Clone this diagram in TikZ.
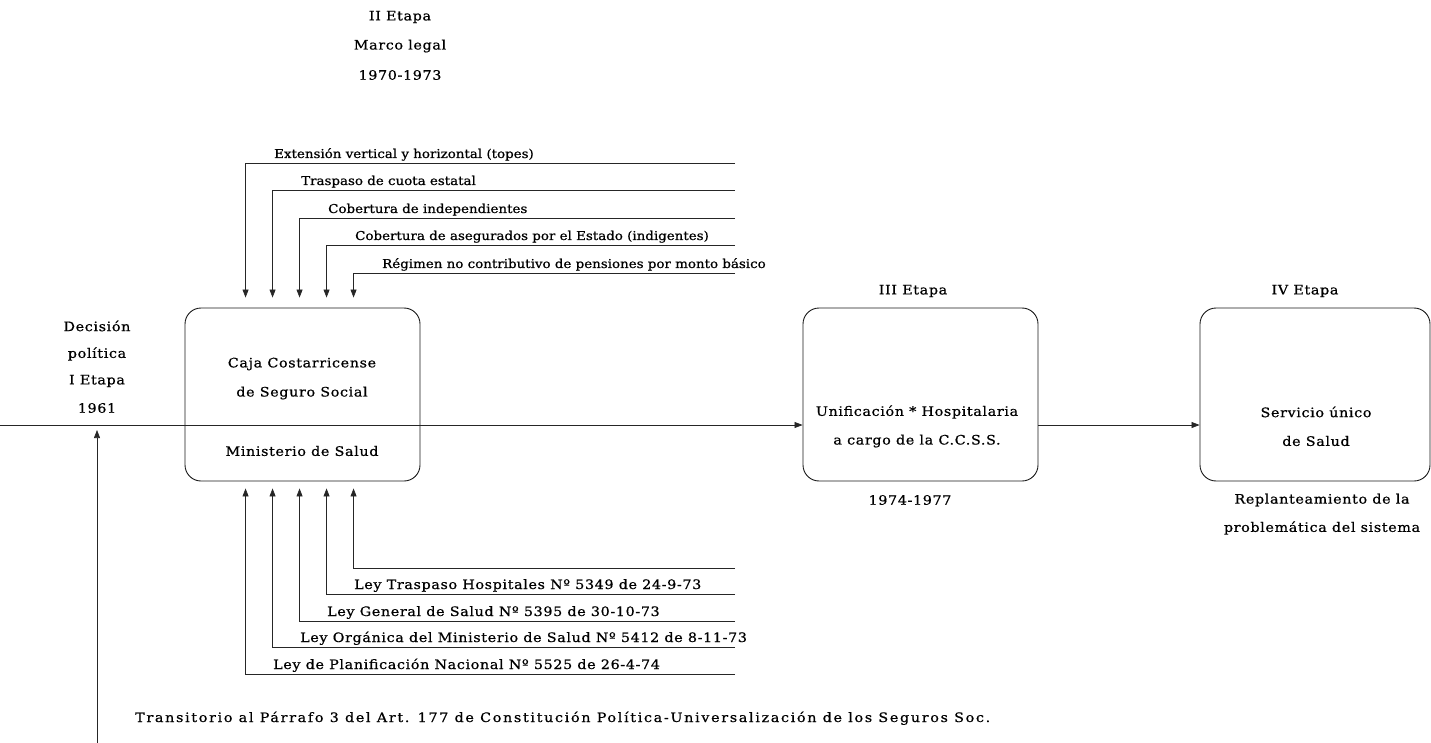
\documentclass[tikz,border=0pt]{standalone}
\usepackage{fontspec}
\setmainfont{DejaVu Serif}[FakeStretch=1.1,LetterSpace=5,FakeBold=0.7]
\usetikzlibrary{arrows.meta,calc}
\newcommand\fs{\fontsize{13}{15}\selectfont}
\newcommand\fst{\fontsize{12.2}{14}\selectfont\addfontfeature{LetterSpace=0}}
\begin{document}
\begin{tikzpicture}[x=1pt,y=-1pt,
  conn/.style={draw=black!85,line width=0.7pt},
  arr/.style={conn,-{Triangle[width=6pt,length=8pt]}},
  box/.style={draw=black!90,line width=0.9pt,rounded corners=16pt,minimum width=235pt,minimum height=173pt,inner sep=0pt},
  lbl/.style={inner sep=0pt,font=\fs},
  lw/.style={lbl,anchor=base west},
  lwt/.style={inner sep=0pt,anchor=base west,font=\fst}]
\useasboundingbox (0,0) rectangle (1431,743);
% boxes
\node[box] (b1) at (302.5,394.5) {};
\node[box] (b2) at (920.5,394.5) {};
\node[box,minimum width=230pt] (b3) at (1315,394.5) {};
% box texts
\node[lbl] (c1) at (302,364) {Caja Costarricense};
\node[lbl] (c2) at (302,393) {de Seguro Social};
\node[lbl] (c3) at (302,451) {Ministerio de Salud};
\node[lbl] (u1) at (917,412) {Unificación * Hospitalaria};
\node[lbl] (u2) at (917,441) {a cargo de la C.C.S.S.};
\node[lbl] (s1) at (1316,412) {Servicio único};
\node[lbl] (s2) at (1316,441) {de Salud};
% stage labels
\node[lbl] (e2a) at (400,17) {II Etapa};
\node[lbl] (e2b) at (400,46) {Marco legal};
\node[lbl] (e2c) at (400,75) {1970-1973};
\node[lbl] (d1) at (97,326) {Decisión};
\node[lbl] (d2) at (97,354) {política};
\node[lbl] (d3) at (97,381) {I Etapa};
\node[lbl] (d4) at (97,408) {1961};
\node[lbl] (e3) at (913,291) {III Etapa};
\node[lbl] (e3y) at (910,500) {1974-1977};
\node[lbl] (e4) at (1305,291) {IV Etapa};
\node[lbl] (r1) at (1322,500) {Replanteamiento de la};
\node[lbl] (r2) at (1322,528) {problemática del sistema};
% top connectors
\foreach \i/\y/\t in {1/163/{Extensión vertical y horizontal (topes)},
                      2/190/{Traspaso de cuota estatal},
                      3/218/{Cobertura de independientes},
                      4/245/{Cobertura de asegurados por el Estado (indigentes)},
                      5/273/{Régimen no contributivo de pensiones por monto básico}} {
  \coordinate (ts\i) at (735,\y);
  \draw[arr,shorten >=10pt] (ts\i) -| ($(b1.north west)+({61+27*(\i-1)},0)$);
  \node[lwt] (tt\i) at ({274+27*(\i-1)},\y-5) {\t};
}
% bottom connectors
\foreach \i/\y in {1/674,2/647,3/621,4/594,5/568} {
  \coordinate (bs\i) at (735,\y);
  \draw[arr,shorten >=7pt] (bs\i) -| ($(b1.south west)+({61+27*(\i-1)},0)$);
}
\foreach \i/\y/\t in {1/674/{Ley de Planificación Nacional Nº 5525 de 26-4-74},
                      2/647/{Ley Orgánica del Ministerio de Salud Nº 5412 de 8-11-73},
                      3/621/{Ley General de Salud Nº 5395 de 30-10-73},
                      4/594/{Ley Traspaso Hospitales Nº 5349 de 24-9-73}} {
  \node[lw] (bt\i) at ({273+27*(\i-1)},\y-5) {\t};
}
% main line
\coordinate (L0) at (0,425);
\draw[arr] (L0) -- (L0 -| b2.west);
\draw[arr] (b2.east |- L0) -- (b3.west |- L0);
% vertical arrow
\coordinate (V0) at (97,743);
\draw[arr,shorten >=5pt] (V0) -- (V0 |- L0);
\node[lw] (tr) at (135,722) {\addfontfeature{LetterSpace=13}Transitorio al Párrafo 3 del Art. 177 de Constitución Política-Universalización de los Seguros Soc.};
\end{tikzpicture}
\end{document}
